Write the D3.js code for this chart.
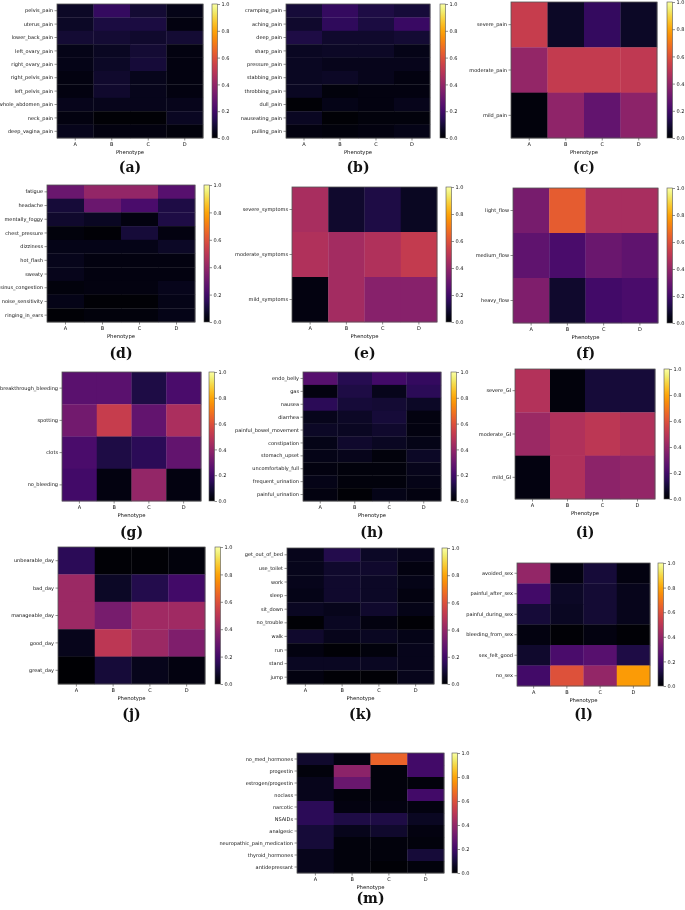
<!DOCTYPE html>
<html><head><meta charset="utf-8">
<script src="https://cdn.jsdelivr.net/npm/d3@7"></script>
<style>body{margin:0;background:#fff}svg{display:block;will-change:transform}</style>
</head><body>
<svg id="c" width="685" height="910"></svg>
<script>
const phenotypes = ["A","B","C","D"];
const cbTicks = [0,0.2,0.4,0.6,0.8,1.0];

const rowsA = ["pelvis_pain","uterus_pain","lower_back_pain","left_ovary_pain","right_ovary_pain","right_pelvis_pain","left_pelvis_pain","whole_abdomen_pain","neck_pain","deep_vagina_pain"];
const valsA = [[0.07,0.17,0.09,0.04],[0.07,0.11,0.11,0.03],[0.09,0.09,0.08,0.09],[0.04,0.06,0.09,0.03],[0.04,0.07,0.10,0.03],[0.03,0.08,0.05,0.03],[0.03,0.08,0.05,0.03],[0.05,0.05,0.05,0.05],[0.03,0.01,0.01,0.06],[0.05,0.03,0.03,0.02]];

const rowsB = ["cramping_pain","aching_pain","deep_pain","sharp_pain","pressure_pain","stabbing_pain","throbbing_pain","dull_pain","nauseating_pain","pulling_pain"];
const valsB = [[0.10,0.17,0.12,0.10],[0.08,0.16,0.11,0.18],[0.12,0.08,0.08,0.09],[0.06,0.07,0.07,0.04],[0.06,0.05,0.05,0.05],[0.06,0.07,0.05,0.03],[0.06,0.02,0.03,0.03],[0.01,0.04,0.03,0.05],[0.06,0.01,0.02,0.02],[0.03,0.02,0.03,0.04]];

const rowsC = ["severe_pain","moderate_pain","mild_pain"];
const valsC = [[0.53,0.07,0.17,0.07],[0.40,0.52,0.52,0.51],[0.02,0.39,0.28,0.38]];

const rowsD = ["fatigue","headache","mentally_foggy","chest_pressure","dizziness","hot_flash","sweaty","sinus_congestion","noise_sensitivity","ringing_in_ears"];
const valsD = [[0.30,0.40,0.40,0.25],[0.10,0.30,0.22,0.12],[0.08,0.06,0.03,0.12],[0.02,0.01,0.10,0.03],[0.04,0.04,0.04,0.07],[0.05,0.03,0.03,0.03],[0.05,0.03,0.03,0.03],[0.02,0.03,0.03,0.05],[0.04,0.01,0.01,0.04],[0.01,0.02,0.02,0.04]];

const rowsE = ["severe_symptoms","moderate_symptoms","mild_symptoms"];
const valsE = [[0.45,0.08,0.12,0.06],[0.47,0.44,0.47,0.52],[0.03,0.44,0.37,0.37]];

const rowsF = ["light_flow","medium_flow","heavy_flow"];
const valsF = [[0.33,0.63,0.45,0.45],[0.27,0.22,0.30,0.27],[0.35,0.08,0.20,0.22]];

const rowsG = ["breakthrough_bleeding","spotting","clots","no_bleeding"];
const valsG = [[0.26,0.26,0.12,0.22],[0.32,0.53,0.28,0.46],[0.22,0.12,0.15,0.28],[0.20,0.03,0.40,0.03]];

const rowsH = ["endo_belly","gas","nausea","diarrhea","painful_bowel_movement","constipation","stomach_upset","uncomfortably_full","frequent_urination","painful_urination"];
const valsH = [[0.25,0.14,0.20,0.17],[0.03,0.12,0.05,0.15],[0.15,0.10,0.09,0.07],[0.05,0.07,0.10,0.03],[0.07,0.06,0.08,0.03],[0.04,0.08,0.06,0.04],[0.04,0.05,0.02,0.07],[0.03,0.02,0.02,0.05],[0.04,0.02,0.02,0.04],[0.03,0.01,0.04,0.03]];

const rowsI = ["severe_GI","moderate_GI","mild_GI"];
const valsI = [[0.48,0.02,0.10,0.10],[0.42,0.47,0.50,0.47],[0.03,0.47,0.38,0.40]];

const rowsJ = ["unbearable_day","bad_day","manageable_day","good_day","great_day"];
const valsJ = [[0.15,0.01,0.01,0.02],[0.42,0.07,0.13,0.20],[0.42,0.33,0.43,0.43],[0.05,0.50,0.42,0.35],[0.00,0.10,0.05,0.03]];

const rowsK = ["get_out_of_bed","use_toilet","work","sleep","sit_down","no_trouble","walk","run","stand","jump"];
const valsK = [[0.05,0.13,0.07,0.05],[0.05,0.08,0.08,0.03],[0.05,0.08,0.07,0.04],[0.04,0.08,0.07,0.03],[0.06,0.05,0.08,0.04],[0.01,0.06,0.03,0.01],[0.08,0.05,0.06,0.04],[0.03,0.01,0.02,0.05],[0.06,0.06,0.06,0.05],[0.03,0.01,0.01,0.05]];

const rowsL = ["avoided_sex","painful_after_sex","painful_during_sex","bleeding_from_sex","sex_felt_good","no_sex"];
const valsL = [[0.40,0.03,0.10,0.03],[0.20,0.07,0.09,0.05],[0.10,0.06,0.09,0.05],[0.03,0.01,0.03,0.01],[0.08,0.22,0.25,0.12],[0.20,0.60,0.40,0.78]];

const rowsM = ["no_med_hormones","progestin","estrogen/progestin","noclass","narcotic","NSAIDs","analgesic","neuropathic_pain_medication","thyroid_hormones","antidepressant"];
const valsM = [[0.08,0.03,0.65,0.20],[0.02,0.38,0.02,0.20],[0.05,0.30,0.02,0.02],[0.05,0.02,0.02,0.20],[0.15,0.03,0.03,0.03],[0.15,0.12,0.12,0.06],[0.10,0.05,0.08,0.03],[0.10,0.02,0.02,0.02],[0.05,0.02,0.02,0.10],[0.05,0.02,0.01,0.02]];

const panels = [
  {id:"(a)", rows:rowsA, vals:valsA, x0:57, x1:203, y0:4, y1:138, cb:212, ly:172},
  {id:"(b)", rows:rowsB, vals:valsB, x0:286, x1:430, y0:4, y1:138, cb:440, ly:172},
  {id:"(c)", rows:rowsC, vals:valsC, x0:511, x1:657, y0:2, y1:138, cb:667, ly:172},
  {id:"(d)", rows:rowsD, vals:valsD, x0:47, x1:195, y0:185, y1:322, cb:204, ly:358},
  {id:"(e)", rows:rowsE, vals:valsE, x0:292, x1:437, y0:187, y1:322, cb:446, ly:358},
  {id:"(f)", rows:rowsF, vals:valsF, x0:513, x1:658, y0:188, y1:323, cb:667, ly:358},
  {id:"(g)", rows:rowsG, vals:valsG, x0:62, x1:201, y0:372, y1:501, cb:209, ly:537},
  {id:"(h)", rows:rowsH, vals:valsH, x0:303, x1:441, y0:372, y1:501, cb:451, ly:537},
  {id:"(i)", rows:rowsI, vals:valsI, x0:515, x1:655, y0:369, y1:499, cb:664, ly:537},
  {id:"(j)", rows:rowsJ, vals:valsJ, x0:58, x1:205, y0:547, y1:684, cb:215, ly:719},
  {id:"(k)", rows:rowsK, vals:valsK, x0:287, x1:434, y0:548, y1:684, cb:442, ly:719},
  {id:"(l)", rows:rowsL, vals:valsL, x0:517, x1:650, y0:563, y1:686, cb:658, ly:719},
  {id:"(m)", rows:rowsM, vals:valsM, x0:297, x1:444, y0:753, y1:873, cb:452, ly:903}
];

const svg = d3.select("#c");
const color = d3.scaleSequential(d3.interpolateInferno).domain([0,1]);
const FONT = "DejaVu Sans, sans-serif";
const FS = 5;
const defs = svg.append("defs");
const grad = defs.append("linearGradient").attr("id","inf").attr("x1","0").attr("y1","1").attr("x2","0").attr("y2","0");
d3.range(0,1.0001,0.05).forEach(t=>grad.append("stop").attr("offset",t).attr("stop-color",color(t)));

panels.forEach(p=>{
  const g = svg.append("g");
  const x = d3.scaleBand().domain(phenotypes).range([p.x0,p.x1]);
  const y = d3.scaleBand().domain(p.rows).range([p.y0,p.y1]);
  const cells = [];
  p.rows.forEach((r,i)=>phenotypes.forEach((c,j)=>cells.push({r,c,v:p.vals[i][j]})));
  g.selectAll("rect.cell").data(cells).join("rect").attr("class","cell")
    .attr("x",d=>x(d.c)).attr("y",d=>y(d.r))
    .attr("width",x.bandwidth()+0.3).attr("height",y.bandwidth()+0.3)
    .attr("fill",d=>color(d.v));
  g.append("rect").attr("x",p.x0).attr("y",p.y0).attr("width",p.x1-p.x0).attr("height",p.y1-p.y0)
    .attr("fill","none").attr("stroke","#555").attr("stroke-width",0.8);
  const ya = g.append("g").attr("transform",`translate(${p.x0},0)`).call(d3.axisLeft(y).tickSize(2.5).tickPadding(1.5));
  const xa = g.append("g").attr("transform",`translate(0,${p.y1})`).call(d3.axisBottom(x).tickSize(2.5).tickPadding(2));
  [ya,xa].forEach(a=>{a.select(".domain").remove();a.selectAll("text").attr("font-size",FS).attr("font-family",FONT).attr("fill","#111");a.selectAll("line").attr("stroke","#444").attr("stroke-width",0.6);});
  g.append("text").attr("x",(p.x0+p.x1)/2).attr("y",p.y1+15.5).attr("text-anchor","middle")
    .attr("font-size",FS+0.3).attr("font-family",FONT).attr("fill","#111").text("Phenotype");
  // colorbar
  const cw = 5.5;
  const cy = d3.scaleLinear().domain([0,1]).range([p.y1,p.y0]);
  g.append("rect").attr("x",p.cb).attr("y",p.y0).attr("width",cw).attr("height",p.y1-p.y0)
    .attr("fill","url(#inf)").attr("stroke","#555").attr("stroke-width",0.6);
  const ca = g.append("g").attr("transform",`translate(${p.cb+cw},0)`).call(d3.axisRight(cy).tickValues(cbTicks).tickFormat(d3.format(".1f")).tickSize(2.5).tickPadding(1.5));
  ca.select(".domain").remove();
  ca.selectAll("text").attr("font-size",FS).attr("font-family",FONT).attr("fill","#111");
  ca.selectAll("line").attr("stroke","#444").attr("stroke-width",0.6);
  g.append("text").attr("x",(p.x0+p.x1)/2).attr("y",p.ly).attr("text-anchor","middle")
    .attr("font-size",14).attr("font-weight","bold").attr("font-family","DejaVu Serif, serif").attr("fill","#111").text(p.id);
});
</script>
</body></html>
